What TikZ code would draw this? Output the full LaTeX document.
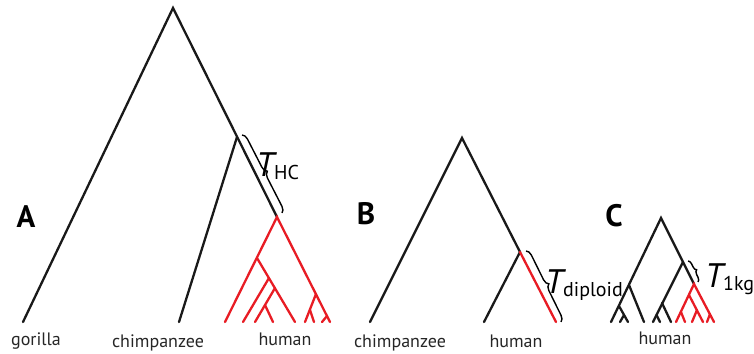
\documentclass[tikz,border=0pt]{standalone}
\usepackage{fontspec}
\setmainfont{PT Sans}
\usepackage{tikz}
\usetikzlibrary{decorations.pathreplacing, calc}
\definecolor{hred}{RGB}{232,28,36}
\newcommand{\tlab}[1]{{\fontsize{34}{34}\selectfont\itshape T}\raisebox{-0.38em}{\fontsize{20}{20}\selectfont #1}}

\begin{document}
\begin{tikzpicture}[x=1pt, y=-1pt,
    branch/.style={line width=2.3pt, black!90, line cap=round},
    hbranch/.style={line width=2.3pt, hred, line cap=round},
    tip/.style={font=\fontsize{18}{18}\selectfont, text=black!85, anchor=base, inner sep=0pt},
    panel/.style={font=\fontsize{31}{31}\selectfont\bfseries, inner sep=0pt},
    tlabel/.style={anchor=base west, inner sep=0pt},
    brc/.style={line width=1.4pt, decorate, decoration={brace, amplitude=#1}},
]
\useasboundingbox (0,0) rectangle (754,353);

% A: gorilla, chimpanzee, human
\coordinate (aroot) at (173,8);
\coordinate (agor) at (23,322);
\coordinate (ahc) at (237,137);
\coordinate (achimp) at (179,322);
\coordinate (ah0) at (277,217);
\coordinate (ahL) at (225,322);
\coordinate (ahR) at (330,322);
\coordinate (ah1) at (257,258);
\coordinate (ah2) at (269,278);
\coordinate (ah3) at (275,288);
\coordinate (ah4) at (265,305);
\coordinate (ah5) at (316,294);
\coordinate (ah6) at (310,310);
\coordinate (ah7) at (327,316);
\draw[branch] (agor) -- (aroot) -- (ah0);
\draw[branch] (ahc) -- (achimp);
\draw[hbranch] (ahL) -- (ah0) -- (ahR);
\draw[hbranch] (ah1) -- (295,322);
\draw[hbranch] (ah2) -- (243,322);
\draw[hbranch] (ah3) -- (255,322);
\draw[hbranch] (ah4) -- (273,322);
\draw[hbranch] (ah5) -- (305,322);
\draw[hbranch] (ah6) -- (314,322);
\draw[hbranch] (ah7) -- (322,322);
\draw[brc=6pt] (242,135) -- (282,213);

\node[panel] (pa) at (26,217) {A};
\node[tip] (gorilla) at (36,345) {gorilla};
\node[tip] (chimpa) at (158,347) {chimpanzee};
\node[tip] (humana) at (285,345) {human};
\node[tlabel] (thc) at (256,176) {\tlab{HC}};

% B: chimpanzee, human (diploid)
\coordinate (broot) at (462,138);
\coordinate (bchimp) at (370,322);
\coordinate (bhc) at (520,252);
\coordinate (bhL) at (484,322);
\coordinate (bhR) at (556,322);
\draw[branch] (bchimp) -- (broot) -- (bhc);
\draw[branch] (bhc) -- (bhL);
\draw[hbranch] (bhc) -- (bhR);
\draw[brc=6pt] (526,251) -- (561,322);

\node[panel] (pb) at (366,214) {B};
\node[tip] (chimpb) at (400,347) {chimpanzee};
\node[tip] (humanb) at (516,347) {human};
\node[tlabel] (tdip) at (545,293) {\tlab{diploid}};

% C: human, 1000 genomes
\coordinate (croot) at (661,218);
\coordinate (cL) at (611,322);
\coordinate (ca) at (629,285);
\coordinate (ca1) at (619,306);
\coordinate (ca2) at (624,315);
\coordinate (cmid) at (683,262);
\coordinate (cm1) at (662,303);
\coordinate (cm2) at (656.5,315);
\coordinate (ch0) at (694,284);
\coordinate (chL) at (676,322);
\coordinate (chR) at (714,322);
\coordinate (ch1) at (689,295);
\coordinate (ch2) at (697,310);
\coordinate (ch3) at (681,312);
\coordinate (ch4) at (710,314);
\draw[branch] (cL) -- (croot) -- (ch0);
\draw[branch] (ca) -- (644,322);
\draw[branch] (ca1) -- (628,322);
\draw[branch] (ca2) -- (620,322);
\draw[branch] (cmid) -- (653,322);
\draw[branch] (cm1) -- (671,322);
\draw[branch] (cm2) -- (660,322);
\draw[hbranch] (chL) -- (ch0) -- (chR);
\draw[hbranch] (ch1) -- (703,322);
\draw[hbranch] (ch2) -- (692,322);
\draw[hbranch] (ch3) -- (685,322);
\draw[hbranch] (ch4) -- (707,322);
\draw[brc=4pt] (688,261) -- (698,282);

\node[panel] (pc) at (614,216) {C};
\node[tip] (humanc) at (665,344) {human};
\node[tlabel] (t1kg) at (705,287) {\tlab{1kg}};
\end{tikzpicture}
\end{document}
